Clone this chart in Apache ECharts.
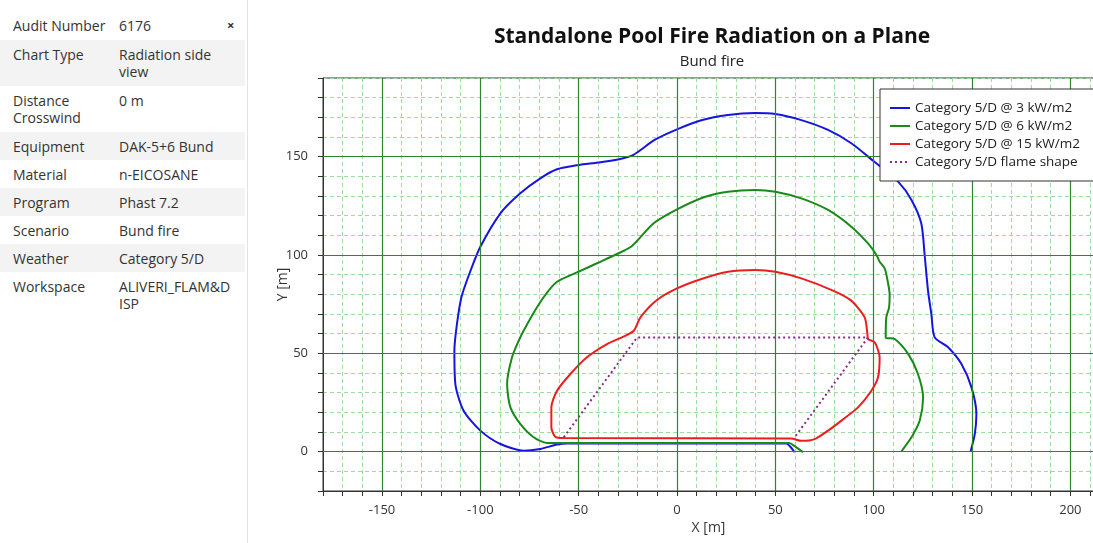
<!DOCTYPE html>
<html>
<head>
<meta charset="utf-8">
<title>Standalone Pool Fire Radiation on a Plane</title>
<script src="https://cdn.jsdelivr.net/npm/echarts@6/dist/echarts.min.js"></script>
<style>
  html, body { margin: 0; padding: 0; background: #fff; }
  body { width: 1093px; height: 543px; position: relative; overflow: hidden; font-family: "Open Sans", "Noto Sans", sans-serif; }
  #chart { position: absolute; left: 0; top: 0; width: 1093px; height: 543px; }
  /* 左侧信息面板 */
  .info-panel { position: absolute; left: 0; top: 0; width: 247px; height: 543px; background: #fff; border-right: 1px solid #e3e3e3; }
  .info-table { position: absolute; left: 0; top: 10.5px; width: 245px; }
  .info-row { position: relative; box-sizing: border-box; padding-top: 6.5px; font-size: 14px; line-height: 17px; color: #333; }
  .info-row.shade { background: #f3f3f3; }
  .info-row .k { position: absolute; left: 13px; }
  .info-row .v { position: absolute; left: 119px; }
  .close-x { position: absolute; left: 227px; top: 16px; font-size: 13px; font-weight: bold; color: #333; }
</style>
</head>
<body>
<div id="chart"></div>
<div class="info-panel">
  <div class="close-x">×</div>
  <div class="info-table">
    <div class="info-row" style="height:29px"><span class="k">Audit Number</span><span class="v">6176</span></div>
    <div class="info-row shade" style="height:46px"><span class="k">Chart Type</span><span class="v">Radiation side<br>view</span></div>
    <div class="info-row" style="height:46px"><span class="k">Distance<br>Crosswind</span><span class="v">0 m</span></div>
    <div class="info-row shade" style="height:28px"><span class="k">Equipment</span><span class="v">DAK-5+6 Bund</span></div>
    <div class="info-row" style="height:28px"><span class="k">Material</span><span class="v">n-EICOSANE</span></div>
    <div class="info-row shade" style="height:28px"><span class="k">Program</span><span class="v">Phast 7.2</span></div>
    <div class="info-row" style="height:28px"><span class="k">Scenario</span><span class="v">Bund fire</span></div>
    <div class="info-row shade" style="height:28px"><span class="k">Weather</span><span class="v">Category 5/D</span></div>
    <div class="info-row" style="height:46px"><span class="k">Workspace</span><span class="v">ALIVERI_FLAM&amp;D<br>ISP</span></div>
  </div>
</div>
<script>
// 坐标轴主刻度（只在这些值上显示标签和深色网格线）
const xMajorTicks = [-150, -100, -50, 0, 50, 100, 150, 200]
const yMajorTicks = [0, 50, 100, 150]

// 图例名称
const seriesNames = [
  'Category 5/D @ 3 kW/m2',
  'Category 5/D @ 6 kW/m2',
  'Category 5/D @ 15 kW/m2',
  'Category 5/D flame shape'
]

// 3 kW/m2 等值线 [x, y]
const contour3kW = [
  [149.3, 0.2], [151.4, 9], [152.2, 19.2], [149.7, 32.7], [144.6, 44.6], [137.8, 53.1],
  [131, 58.1], [129.3, 70], [127.6, 81.9], [125.9, 100], [124.2, 116], [119.2, 128],
  [112.4, 137.3], [100.2, 147.5], [88.6, 156.8], [76.8, 163.6], [63.2, 168.6], [50, 171.7],
  [39.5, 172.2], [25.9, 171.2], [12.4, 168.5], [0, 163.9], [-11.4, 158.5], [-22.4, 150.8],
  [-30, 148.6], [-40.2, 147], [-50, 145.8], [-61, 143.6], [-69.5, 139], [-79.7, 131.4],
  [-89.8, 121.2], [-100, 104.2], [-105, 92], [-109.5, 79], [-111.9, 64.9], [-113.2, 51.4],
  [-112.7, 34.4], [-108.5, 20.8], [-100, 10.7], [-89.8, 3.9], [-78, 0.5], [-69.5, 1.4],
  [-61, 3.6], [-55.9, 4.2], [55.6, 4.2], [57.6, 2.5], [59.8, -0.3]
]

// 6 kW/m2 等值线
const contour6kW = [
  [114.1, 0.2], [119.2, 7.3], [123.4, 15.8], [125.1, 27.6], [122.5, 39.5], [117.5, 49.7],
  [110.7, 57.3], [106.1, 58.1], [106.4, 68.3], [107.8, 73.4], [108.1, 80], [107.3, 85.6],
  [105.6, 93.2], [103, 96.6], [101.4, 100], [97.1, 105.9], [88.6, 114.4], [76.8, 122.9],
  [63.2, 128.8], [50, 132.2], [39.5, 133.1], [25.9, 132.2], [14, 129.5], [0, 123.2],
  [-11.9, 116.1], [-22.9, 104.6], [-30.5, 100.5], [-40.7, 95.8], [-50, 91.5], [-61, 86.4],
  [-66, 81], [-71.2, 73.4], [-78, 61.5], [-80.5, 56.4], [-83.9, 48], [-86.4, 34.4],
  [-84.7, 22.5], [-79.7, 14.1], [-72.9, 7.3], [-66.1, 4.4], [-59.3, 4.4], [57, 4.4],
  [59.8, 2.8], [64.1, -0.3]
]

// 15 kW/m2 等值线
const contour15kW = [
  [-57.6, 6.9], [58.1, 6.7], [63.2, 5.5], [70, 6.4], [76.8, 10.7], [83.6, 15.8],
  [92, 22.5], [98.8, 31], [102.2, 37.8], [103, 48], [100.5, 55.6], [97.1, 57.3],
  [96.8, 59.8], [95.4, 68.3], [88.6, 76.8], [79.3, 81.9], [63.2, 88.1], [50, 91.5],
  [39.5, 92.4], [25.9, 91.5], [12.4, 87.8], [0, 83], [-10.2, 77.1], [-18.6, 68.3],
  [-22, 61.5], [-28, 58.1], [-35.6, 54.7], [-45.8, 48], [-54.2, 39.5], [-61, 31],
  [-63.9, 22.5], [-63.9, 12.4], [-61.9, 7.6], [-57.6, 6.9]
]

// 火焰形状（虚线）
const flameShape = [
  [-57.6, 7.3], [-20.3, 58.1], [97.1, 58.1], [59.8, 7.3]
]

const chart = echarts.init(document.getElementById('chart'), null, { renderer: 'canvas' })

const FONT = '"Open Sans", "Noto Sans", sans-serif'
const majorColor = '#2f852f'
const minorColor = '#9edc9e'

// 只给主刻度显示标签
const labelFor = (ticks) => (v) => {
  const r = Math.round(v)
  return Math.abs(v - r) < 1e-6 && ticks.includes(r) ? String(r) : ''
}

const contourSeries = (name, data, color, lineType) => ({
  name: name,
  type: 'line',
  data: data,
  showSymbol: false,
  symbol: 'none',
  smooth: lineType ? false : 0.25,
  lineStyle: { color: color, width: 2, type: lineType || 'solid' },
  itemStyle: { color: color },
  z: 3,
  silent: true
})

const option = {
  animation: false,
  graphic: [
    {
      type: 'text', x: 712, y: 37, z: 10,
      style: { text: 'Standalone Pool Fire Radiation on a Plane', font: 'bold 21px ' + FONT, fill: '#111', align: 'center', verticalAlign: 'middle' }
    },
    {
      type: 'text', x: 712, y: 62, z: 10,
      style: { text: 'Bund fire', font: '15px ' + FONT, fill: '#222', align: 'center', verticalAlign: 'middle' }
    }
  ],
  grid: {
    left: 323,
    top: 78,
    width: 771,
    height: 413,
    outerBoundsMode: 'none',
    containLabel: false,
    show: true,
    borderColor: '#333',
    borderWidth: 1,
    backgroundColor: 'transparent'
  },
  legend: {
    data: seriesNames,
    orient: 'vertical',
    left: 880,
    top: 89,
    padding: [12, 16, 12, 9],
    itemWidth: 20,
    itemHeight: 14,
    itemGap: 4,
    itemStyle: { opacity: 0 },
    backgroundColor: '#fff',
    borderColor: '#333',
    borderWidth: 1,
    borderRadius: 0,
    textStyle: { fontSize: 13.5, color: '#222', fontFamily: FONT },
    z: 20
  },
  xAxis: {
    type: 'value',
    min: -180,
    max: 212,
    interval: 10,
    name: 'X [m]',
    nameLocation: 'middle',
    nameGap: 30,
    nameMoveOverlap: false,
    nameTextStyle: { fontSize: 14, color: '#333', fontFamily: FONT },
    axisLine: { onZero: false, lineStyle: { color: '#333', width: 1 } },
    axisTick: { show: true, inside: false, length: 5, lineStyle: { color: '#333' } },
    axisLabel: { margin: 13, fontSize: 13, color: '#333', fontFamily: FONT, formatter: labelFor(xMajorTicks) },
    splitLine: { show: true, lineStyle: { color: minorColor, type: [4, 3], width: 1 } }
  },
  yAxis: {
    type: 'value',
    min: -20,
    max: 190,
    interval: 10,
    name: 'Y [m]',
    nameLocation: 'middle',
    nameGap: 33,
    nameRotate: 90,
    nameMoveOverlap: false,
    nameTextStyle: { fontSize: 14, color: '#333', fontFamily: FONT },
    axisLine: { show: true, onZero: false, lineStyle: { color: '#333', width: 1 } },
    axisTick: { show: true, inside: false, length: 5, lineStyle: { color: '#333' } },
    axisLabel: { margin: 15, fontSize: 13, color: '#333', fontFamily: FONT, formatter: labelFor(yMajorTicks) },
    splitLine: { show: true, lineStyle: { color: minorColor, type: [4, 3], width: 1 } }
  },
  series: [
    contourSeries(seriesNames[0], contour3kW, '#1515e0'),
    contourSeries(seriesNames[1], contour6kW, '#188a18'),
    contourSeries(seriesNames[2], contour15kW, '#ee1c1c'),
    contourSeries(seriesNames[3], flameShape, '#8a2a8a', [2, 3]),
    {
      // 主网格线（实线深绿）
      name: 'major-grid',
      type: 'line',
      data: [],
      z: 1,
      silent: true,
      markLine: {
        silent: true,
        symbol: ['none', 'none'],
        label: { show: false },
        lineStyle: { color: majorColor, type: 'solid', width: 1.2 },
        data: xMajorTicks.map(v => ({ xAxis: v })).concat(yMajorTicks.map(v => ({ yAxis: v })))
      }
    }
  ]
}

chart.setOption(option)
</script>
</body>
</html>
